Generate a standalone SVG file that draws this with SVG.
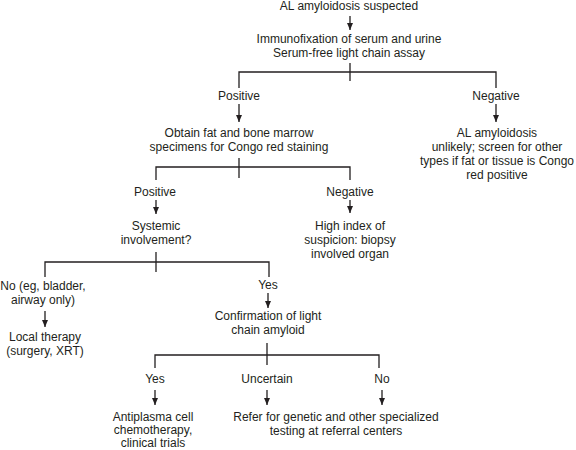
<svg xmlns="http://www.w3.org/2000/svg" width="576" height="450" viewBox="0 0 576 450">
<defs>
<marker id="ah" markerUnits="userSpaceOnUse" markerWidth="8" markerHeight="8" viewBox="0 0 8 8" refX="7" refY="4" orient="auto">
<path d="M0,1 L7,4 L0,7 Z" fill="#231f20"/>
</marker>
<style>
text{font-family:"Liberation Sans",Arial,sans-serif;font-size:12px;fill:#231f20;text-anchor:middle}
.ln{fill:none;stroke:#231f20;stroke-width:1.3}
.ar{fill:none;stroke:#231f20;stroke-width:1.3;marker-end:url(#ah)}
</style>
</defs>
<rect width="576" height="450" fill="#ffffff"/>
<g id="connectors">
<line class="ar" x1="350" y1="16" x2="350" y2="30"/>
<line class="ln" x1="350" y1="63" x2="350" y2="81"/>
<polyline class="ln" points="239,88 239,72 496,72 496,88"/>
<line class="ar" x1="239" y1="104" x2="239" y2="122"/>
<line class="ar" x1="496" y1="104" x2="496" y2="122"/>
<line class="ln" x1="239" y1="158" x2="239" y2="178"/>
<polyline class="ln" points="156,180 156,167 350,167 350,180"/>
<line class="ar" x1="156" y1="200" x2="156" y2="214"/>
<line class="ar" x1="350" y1="200" x2="350" y2="213"/>
<line class="ln" x1="156" y1="252" x2="156" y2="272"/>
<polyline class="ln" points="45,277 45,262 269,262 269,277"/>
<line class="ar" x1="45" y1="311" x2="45" y2="327"/>
<line class="ar" x1="268" y1="293" x2="268" y2="308"/>
<line class="ln" x1="267" y1="343" x2="267" y2="365"/>
<polyline class="ln" points="155,368 155,355 379,355 379,368"/>
<line class="ar" x1="155" y1="390" x2="155" y2="405"/>
<line class="ar" x1="267" y1="390" x2="267" y2="405"/>
<line class="ar" x1="382" y1="390" x2="382" y2="405"/>
</g>
<g id="n-suspected"><text x="349" y="10">AL amyloidosis suspected</text></g>
<g id="n-immuno"><text x="349" y="43">Immunofixation of serum and urine</text><text x="349" y="57">Serum-free light chain assay</text></g>
<g id="n-pos1"><text x="239" y="100">Positive</text></g>
<g id="n-neg1"><text x="496" y="100">Negative</text></g>
<g id="n-obtain"><text x="239" y="137">Obtain fat and bone marrow</text><text x="239" y="151">specimens for Congo red staining</text></g>
<g id="n-unlikely"><text x="497" y="137">AL amyloidosis</text><text x="497" y="151">unlikely; screen for other</text><text x="497" y="165">types if fat or tissue is Congo</text><text x="497" y="179">red positive</text></g>
<g id="n-pos2"><text x="155" y="196">Positive</text></g>
<g id="n-neg2"><text x="350" y="196">Negative</text></g>
<g id="n-systemic"><text x="156" y="230">Systemic</text><text x="156" y="244">involvement?</text></g>
<g id="n-highindex"><text x="350" y="230">High index of</text><text x="350" y="244">suspicion: biopsy</text><text x="350" y="258">involved organ</text></g>
<g id="n-no1"><text x="43" y="290">No (eg, bladder,</text><text x="43" y="304">airway only)</text></g>
<g id="n-yes1"><text x="268" y="289">Yes</text></g>
<g id="n-local"><text x="45" y="341">Local therapy</text><text x="45" y="355">(surgery, XRT)</text></g>
<g id="n-confirm"><text x="268" y="320">Confirmation of light</text><text x="268" y="334">chain amyloid</text></g>
<g id="n-yes2"><text x="155" y="383">Yes</text></g>
<g id="n-uncertain"><text x="267" y="383">Uncertain</text></g>
<g id="n-no2"><text x="382" y="383">No</text></g>
<g id="n-antiplasma"><text x="153" y="421">Antiplasma cell</text><text x="153" y="434">chemotherapy,</text><text x="153" y="447">clinical trials</text></g>
<g id="n-refer"><text x="336" y="421">Refer for genetic and other specialized</text><text x="336" y="435">testing at referral centers</text></g>
</svg>
